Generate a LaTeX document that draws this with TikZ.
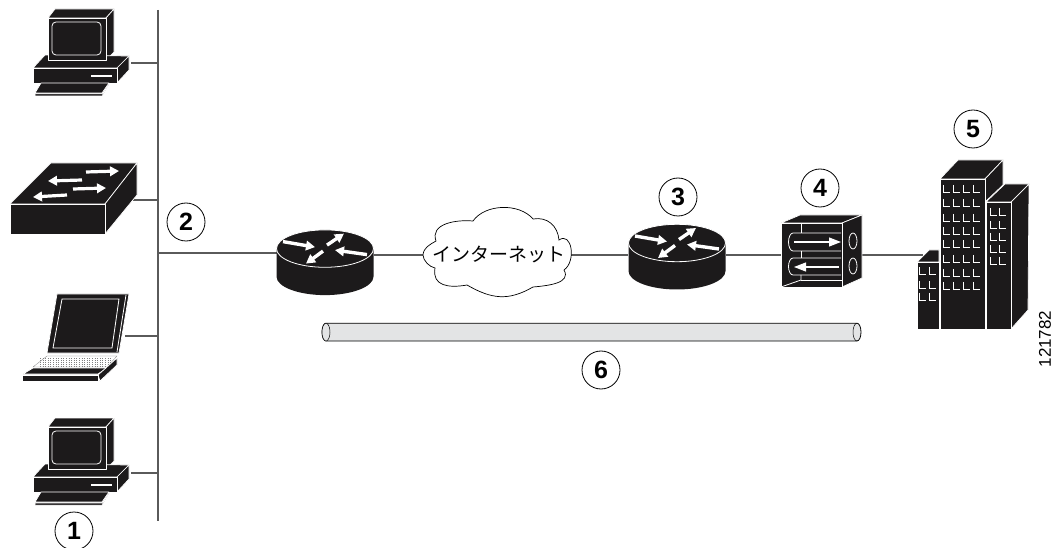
\documentclass[tikz,border=0pt]{standalone}
\usepackage{fontspec}
\setmainfont{Liberation Sans}
\newfontfamily\cjk{Noto Sans CJK JP}
\usetikzlibrary{backgrounds,arrows.meta}
\pgfdeclarelayer{edgelayer}
\pgfdeclarelayer{nodelayer}
\pgfsetlayers{edgelayer,nodelayer,main}
\definecolor{iconblack}{HTML}{1C1A1B}
\definecolor{tubegray}{HTML}{E3E4E5}
\definecolor{linkgray}{HTML}{5A5A5A}
\tikzstyle{none}=[inner sep=0pt]
\tikzstyle{num}=[circle,draw,line width=0.8pt,fill=white,inner sep=0pt,minimum size=38pt,font=\fontsize{25}{25}\selectfont\bfseries]
\tikzstyle{link}=[line width=1.2pt,draw=linkgray]
\tikzstyle{face}=[fill=iconblack,draw=white,line width=0.7pt,line join=round]
\tikzstyle{wedge}=[draw=white,line width=3.4pt,-{Triangle[length=9pt,width=9.5pt]}]
\tikzstyle{swarrow}=[draw=white,line width=3.2pt,-{Triangle[length=9pt,width=9.5pt]}]
\tikzstyle{thinwhite}=[draw=white,line width=0.8pt]
\tikzset{
	pics/pcicon/.style={code={
		\draw [style=face] (48,-18) -- (55,-9) -- (114,-9) -- (106,-18) -- cycle;
		\draw [style=face] (106,-18) -- (114,-9) -- (114,-52) -- (106,-60) -- cycle;
		\draw [style=face] (33,-68) -- (45,-55) -- (129,-56) -- (117,-68) -- cycle;
		\draw [style=face] (117,-68) -- (129,-56) -- (129,-70) -- (117,-83) -- cycle;
		\draw [style=face] (33,-68) rectangle (117,-83);
		\draw [style=face] (48,-18) rectangle (106,-60);
		\draw [style=thinwhite,rounded corners=4pt] (52,-22) rectangle (101,-55);
		\draw [draw=white,line width=1.3pt] (91,-76) -- (112,-76);
		\draw [style=face] (35,-93) -- (41,-83) -- (109,-83) -- (102,-93) -- cycle;
		\draw [fill=iconblack,draw=white,line width=0.5pt] (35,-94) -- (102,-94) -- (109,-84) -- (102,-96) -- (35,-96) -- cycle;
	}},
	pics/routericon/.style={code={
		\fill [iconblack] (-48.5,0) -- (-48.5,-28) arc (180:360:48.5 and 18.5) -- (48.5,0) -- cycle;
		\draw [fill=iconblack,draw=white,line width=0.8pt] (0,0) ellipse (48.5 and 18.7);
		\draw [style=wedge] (-42,7) -- (-10,1.5);
		\draw [style=wedge] (2,3.5) -- (19,15);
		\draw [style=wedge] (42,-6) -- (10,-1.5);
		\draw [style=wedge] (-2,-2.5) -- (-19,-15);
	}}
}

\begin{document}
\begin{tikzpicture}[x=1pt,y=1pt]
	\useasboundingbox (0,0) rectangle (1053,-548);
	\begin{pgfonlayer}{nodelayer}
		% hosts on the left
		\pic at (0,0) {pcicon};
		\pic at (0,-409) {pcicon};
		% switch
		\draw [style=face] (10,-204) -- (51,-163) -- (137,-163) -- (105,-204) -- cycle;
		\draw [style=face] (105,-204) -- (137,-163) -- (137,-195) -- (105,-234) -- cycle;
		\draw [style=face] (10,-204) rectangle (105,-234);
		\draw [style=swarrow] (86,-172) -- (119,-171);
		\draw [style=swarrow] (82,-180) -- (48,-181);
		\draw [style=swarrow] (73,-189) -- (106,-188);
		\draw [style=swarrow] (67,-195) -- (33,-197);
		% laptop
		\draw [style=face] (57,-294) -- (129,-294) -- (119,-353) -- (47,-353) -- cycle;
		\draw [style=thinwhite] (62,-299) -- (119,-299) -- (112,-348) -- (53,-348) -- cycle;
		\draw [style=thinwhite] (126,-295) -- (117,-352);
		\draw [fill=white,draw=gray,line width=0.3pt] (47,-356) -- (117,-356) -- (107,-367) -- (33,-367) -- cycle;
		\foreach \ky in {-358,-360,-362,-364,-366}
			\draw [gray,line width=0.6pt,dotted] (40,\ky) -- (112,\ky);
		\draw [style=face] (33,-368) -- (107,-368) -- (98,-374) -- (23,-374) -- cycle;
		\draw [style=face] (98,-375) -- (117,-358) -- (117,-365) -- (100,-381) -- cycle;
		\draw [style=face] (22,-375) rectangle (98,-381);
		% routers
		\pic at (325,-248.6) {routericon};
		\pic at (677,-243) {routericon};
		% cloud
		\draw [fill=white,draw=black,line width=0.7pt]
			(423,-255) to [out=85,in=-150] (436,-241)
			to [out=110,in=175,looseness=1.1] (473,-221)
			to [out=55,in=130,looseness=0.9] (533,-219)
			to [out=10,in=95,looseness=1.1] (559,-240)
			to [out=35,in=35,looseness=1.3] (564,-270)
			to [out=-60,in=5,looseness=1.1] (533,-287)
			to [out=-150,in=-30,looseness=1.1] (467,-285)
			to [out=-170,in=-100,looseness=1.3] (435,-268)
			to [out=170,in=-90,looseness=0.8] (423,-255);
		\node [style=none,font=\cjk\fontsize{19}{19}\selectfont] (cloudlabel) at (499,-254) {インターネット};
		% firewall
		\draw [style=face] (781,-223) -- (800,-215) -- (862,-215) -- (842,-223) -- cycle;
		\draw [style=face] (842,-223) -- (862,-215) -- (862,-278) -- (842,-287) -- cycle;
		\draw [style=face] (781,-223) rectangle (842,-287);
		\draw [style=thinwhite] (801,-223) -- (801,-233);
		\draw [style=thinwhite] (801,-251) -- (801,-258);
		\draw [style=thinwhite] (801,-275) -- (801,-280) -- (781,-287);
		\draw [style=thinwhite] (801,-280) -- (842,-280);
		\draw [style=thinwhite] (841,-233) -- (793,-233) arc (90:270:4.5 and 9) -- (841,-251);
		\draw [style=thinwhite] (841,-258) -- (793,-258) arc (90:270:4.5 and 8.5) -- (841,-275);
		\draw [draw=white,line width=1.2pt,-{Triangle[length=12pt,width=9pt]}] (794,-242) -- (841,-242);
		\draw [draw=white,line width=1.2pt,-{Triangle[length=12pt,width=9pt]}] (839,-267) -- (794,-267);
		\draw [style=thinwhite] (853,-241) ellipse (4 and 8);
		\draw [style=thinwhite] (853,-266) ellipse (4 and 8);
		% buildings
		\draw [style=face] (917,-262) -- (929,-250) -- (939,-250) -- (939,-262) -- cycle;
		\draw [style=face] (917,-262) rectangle (939,-329);
		\draw [style=face] (940,-179) -- (958,-160) -- (1003,-160) -- (985,-179) -- cycle;
		\draw [style=face] (985,-179) -- (1003,-160) -- (1003,-185) -- (985,-202) -- cycle;
		\draw [style=face] (940,-179) rectangle (985,-329);
		\draw [style=face] (986,-202) -- (1005,-184) -- (1029,-184) -- (1011,-202) -- cycle;
		\draw [style=face] (1011,-202) -- (1029,-184) -- (1028,-310) -- (1011,-329) -- cycle;
		\draw [style=face] (986,-202) rectangle (1011,-329);
		\foreach \wx in {943,953,963,973}
			\foreach \wy in {192,206,221,234,247,262,276,289}
				\draw [draw=white,line width=0.8pt] (\wx,-\wy+7) -- (\wx,-\wy) -- (\wx+7,-\wy);
		\foreach \wx in {990,999}
			\foreach \wy in {215,228,240,252,264}
				\draw [draw=white,line width=0.8pt] (\wx,-\wy+7) -- (\wx,-\wy) -- (\wx+7,-\wy);
		\foreach \wx in {919,929}
			\foreach \wy in {274,288,300}
				\draw [draw=white,line width=0.8pt] (\wx,-\wy+7) -- (\wx,-\wy) -- (\wx+7,-\wy);
		% tunnel
		\draw [fill=tubegray,draw=black,line width=0.8pt] (326,-323.2) -- (857,-323.2) arc (90:-90:4 and 8.9) -- (326,-341) arc (270:90:4 and 8.9) -- cycle;
		\draw [fill=tubegray,draw=black,line width=0.5pt] (326,-332.1) ellipse (4 and 8.9);
		\draw [draw=black,line width=0.5pt] (857,-323.2) arc (90:270:4 and 8.9);
		% anchors for the links
		\node [style=none] (bustop) at (158,-10) {};
		\node [style=none] (busbot) at (158,-521) {};
		\node [style=none] (pctop) at (131,-63) {};
		\node [style=none] (bustoptap) at (158,-63) {};
		\node [style=none] (swr) at (133,-200) {};
		\node [style=none] (buswr) at (158,-200) {};
		\node [style=none] (busrt) at (158,-253) {};
		\node [style=none] (rtleft) at (277,-253) {};
		\node [style=none] (laptopr) at (125,-336) {};
		\node [style=none] (buslap) at (158,-336) {};
		\node [style=none] (pcbot) at (131,-473) {};
		\node [style=none] (buspc) at (158,-473) {};
		\node [style=none] (rtright) at (374,-255) {};
		\node [style=none] (cloudl) at (423,-255) {};
		\node [style=none] (cloudr) at (570,-255) {};
		\node [style=none] (rbleft) at (628,-255) {};
		\node [style=none] (rbright) at (726,-255) {};
		\node [style=none] (fwleft) at (781,-255) {};
		\node [style=none] (fwright) at (862,-255) {};
		\node [style=none] (bldleft) at (923,-255) {};
	\end{pgfonlayer}
	\begin{pgfonlayer}{edgelayer}
		\draw [style=link] (bustop.center) to (busbot.center);
		\draw [style=link] (pctop.center) to (bustoptap.center);
		\draw [style=link] (swr.center) to (buswr.center);
		\draw [style=link] (busrt.center) to (rtleft.center);
		\draw [style=link] (laptopr.center) to (buslap.center);
		\draw [style=link] (pcbot.center) to (buspc.center);
		\draw [style=link] (rtright.center) to (cloudl.center);
		\draw [style=link] (cloudr.center) to (rbleft.center);
		\draw [style=link] (rbright.center) to (fwleft.center);
		\draw [style=link] (fwright.center) to (bldleft.center);
	\end{pgfonlayer}
	% callouts
	\node [style=num] (n1) at (74,-531) {1};
	\node [style=num] (n2) at (186,-222) {2};
	\node [style=num] (n3) at (678,-197) {3};
	\node [style=num] (n4) at (820,-188) {4};
	\node [style=num] (n5) at (973,-129) {5};
	\node [style=num] (n6) at (601,-370) {6};
	\node [style=none,rotate=90,font=\fontsize{17}{17}\selectfont] (figid) at (1045,-339) {121782};
\end{tikzpicture}
\end{document}
